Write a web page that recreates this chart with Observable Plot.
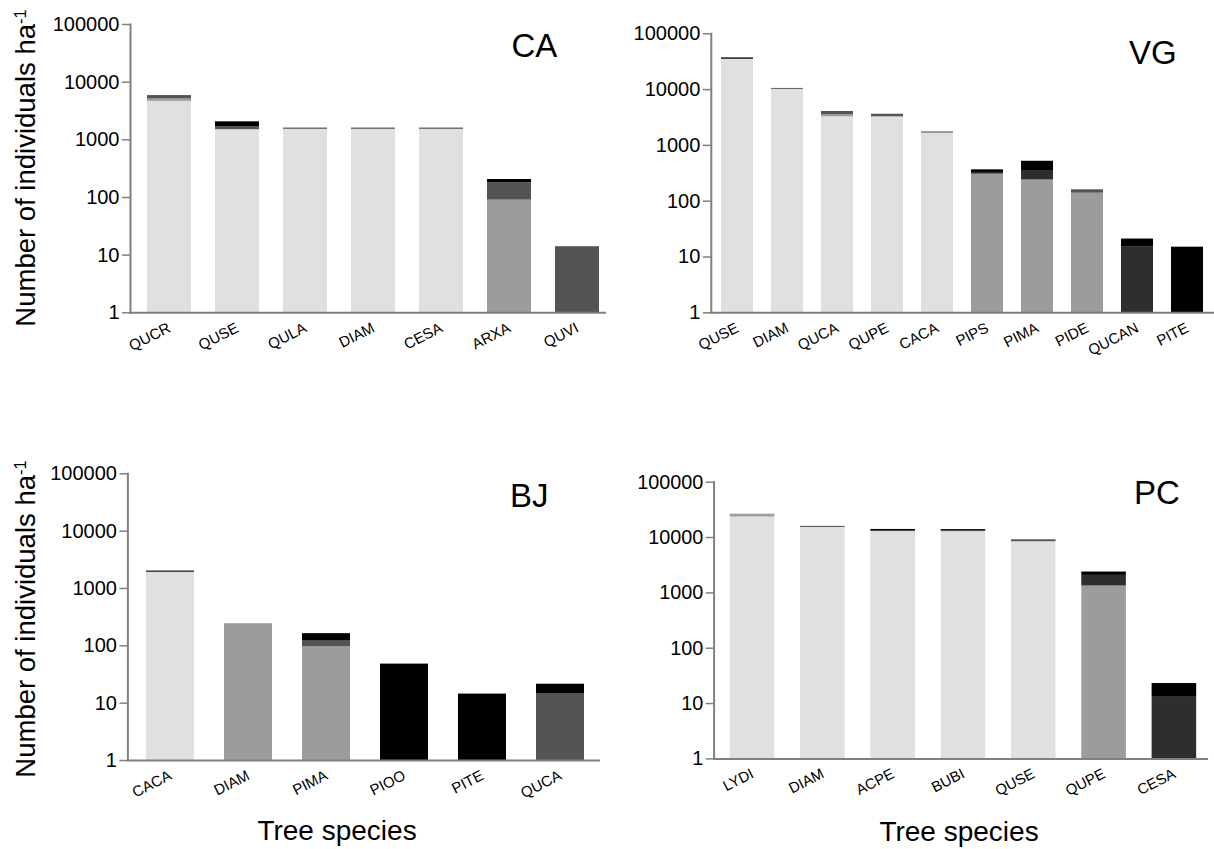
<!DOCTYPE html>
<html><head><meta charset="utf-8">
<script src="https://cdn.jsdelivr.net/npm/d3@7"></script>
<script src="https://cdn.jsdelivr.net/npm/@observablehq/plot@0.6"></script>
<style>
body{margin:0;background:#fff;overflow:hidden;font-family:"Liberation Sans",Arial,sans-serif}
#root{position:relative;width:1214px;height:849px;overflow:hidden;background:#fff}
.panel{position:absolute}
.lbl{position:absolute;font-size:33px;line-height:1;color:#000;white-space:nowrap}
.ytitle{position:absolute;font-size:27.5px;line-height:1;white-space:nowrap;color:#000;transform:translate(-50%,-50%) rotate(-90deg)}
.ytitle .sup{position:relative;top:-0.55em;font-size:0.6em}
.xtitle{position:absolute;font-size:28px;line-height:1;white-space:nowrap;color:#000;transform:translateX(-50%)}
</style></head>
<body><div id="root"></div>
<script>
// size/colour classes, stacked bottom to top
const classes = ["c1","c2","c3","c4","c5"];
const classColors = ["#e0e0e0","#9c9c9c","#545454","#2e2e2e","#000000"];
const yTicks = [1,10,100,1000,10000,100000];

// CA
const caSpecies = ["QUCR","QUSE","QULA","DIAM","CESA","ARXA","QUVI"];
const caC1 = [4650,1500,1540,1540,1540,0,0];
const caC2 = [480,0,0,0,0,90,0];
const caC3 = [720,200,0,0,0,90,14];
const caC4 = [0,0,0,0,0,0,0];
const caC5 = [0,350,50,50,50,25,0];

// VG
const vgSpecies = ["QUSE","DIAM","QUCA","QUPE","CACA","PIPS","PIMA","PIDE","QUCAN","PITE"];
const vgC1 = [35000,10100,3250,3250,1630,0,0,0,0,0];
const vgC2 = [0,0,330,0,145,305,240,139,0,0];
const vgC3 = [0,400,470,370,0,0,0,21,0,0];
const vgC4 = [0,0,0,0,0,22,115,0,15,0];
const vgC5 = [2000,0,0,0,0,38,165,0,6,15];

// BJ
const bjSpecies = ["CACA","DIAM","PIMA","PIOO","PITE","QUCA"];
const bjC1 = [1920,0,0,0,0,0];
const bjC2 = [0,243,96,0,0,0];
const bjC3 = [0,0,25,0,0,14.4];
const bjC4 = [0,0,0,0,0,0];
const bjC5 = [90,0,42,48,14.4,7];

// PC
const pcSpecies = ["LYDI","DIAM","ACPE","BUBI","QUSE","QUPE","CESA"];
const pcC1 = [23600,15200,12800,12800,8400,0,0];
const pcC2 = [2800,0,0,0,0,1330,0];
const pcC3 = [0,700,300,300,700,0,0];
const pcC4 = [0,0,0,0,0,740,13];
const pcC5 = [0,0,900,800,0,310,10];

function buildRows(species, series) {
  const out = [];
  species.forEach((s, i) => {
    let cum = 0;
    series.forEach((arr, k) => {
      const v = arr[i];
      if (v > 0) {
        out.push({species: s, cls: classes[k], y1: Math.max(1, cum), y2: cum + v});
        cum += v;
      }
    });
  });
  return out;
}

const root = document.getElementById("root");

function panel(cfg) {
  const data = buildRows(cfg.species, cfg.series);
  const chart = Plot.plot({
    width: cfg.width, height: cfg.height,
    marginLeft: cfg.marginLeft, marginTop: cfg.marginTop,
    marginBottom: cfg.marginBottom, marginRight: cfg.marginRight,
    style: {background: "transparent", fontFamily: "Liberation Sans, Arial, sans-serif", color: "#000", overflow: "visible"},
    x: {domain: cfg.species, range: cfg.range, paddingInner: cfg.pi, paddingOuter: cfg.po},
    y: {type: "log", domain: [1, 100000]},
    color: {domain: classes, range: classColors},
    marks: [
      Plot.barY(data, {x: "species", y1: "y1", y2: "y2", fill: "cls"}),
      Plot.axisY({ticks: yTicks, tickFormat: d => String(d), fontSize: 20, tickSize: 8, tickPadding: 3, stroke: "#808080", strokeWidth: 1.5, label: null}),
      Plot.axisX({tickRotate: -27, tickSize: 0, tickPadding: 14, fontSize: 15, label: null}),
      Plot.ruleY([1], {stroke: "#808080", strokeWidth: 2}),
      Plot.frame({anchor: "left", stroke: "#808080", strokeWidth: 2})
    ]
  });
  const div = document.createElement("div");
  div.className = "panel";
  div.style.left = cfg.left + "px";
  div.style.top = cfg.top + "px";
  div.appendChild(chart);
  root.appendChild(div);
  const lbl = document.createElement("div");
  lbl.className = "lbl";
  lbl.textContent = cfg.name;
  lbl.style.left = cfg.lblX + "px";
  lbl.style.top = cfg.lblY + "px";
  root.appendChild(lbl);
}

panel({name: "CA", species: caSpecies, series: [caC1, caC2, caC3, caC4, caC5],
  left: 0, top: 0, width: 620, height: 360, marginLeft: 130, marginTop: 24, marginBottom: 47.7, marginRight: 14,
  range: [130, 616], pi: 0.348, po: 0.196, lblX: 511.5, lblY: 28.7});
panel({name: "VG", species: vgSpecies, series: [vgC1, vgC2, vgC3, vgC4, vgC5],
  left: 600, top: 0, width: 614, height: 360, marginLeft: 110.8, marginTop: 33.3, marginBottom: 47.7, marginRight: 0,
  range: [110.8, 613.6], pi: 0.365, po: 0.17, lblX: 1129, lblY: 35.7});
panel({name: "BJ", species: bjSpecies, series: [bjC1, bjC2, bjC3, bjC4, bjC5],
  left: 0, top: 420, width: 605, height: 429, marginLeft: 127.4, marginTop: 53.3, marginBottom: 89, marginRight: 5,
  range: [127.4, 603.6], pi: 0.38, po: 0.204, lblX: 510, lblY: 478.7});
panel({name: "PC", species: pcSpecies, series: [pcC1, pcC2, pcC3, pcC4, pcC5],
  left: 600, top: 420, width: 620, height: 429, marginLeft: 114.7, marginTop: 62.3, marginBottom: 87.3, marginRight: 6,
  range: [114.7, 618], pi: 0.365, po: 0.191, lblX: 1134, lblY: 475.7});

function yTitle(cx, cy) {
  const d = document.createElement("div");
  d.className = "ytitle";
  d.innerHTML = 'Number of individuals ha<span class="sup">-1</span>';
  d.style.left = cx + "px";
  d.style.top = cy + "px";
  root.appendChild(d);
}
yTitle(26, 167.5);
yTitle(26, 618.5);

function xTitle(cx, top) {
  const d = document.createElement("div");
  d.className = "xtitle";
  d.textContent = "Tree species";
  d.style.left = cx + "px";
  d.style.top = top + "px";
  root.appendChild(d);
}
xTitle(337, 817);
xTitle(959, 818);
</script>
</body></html>
